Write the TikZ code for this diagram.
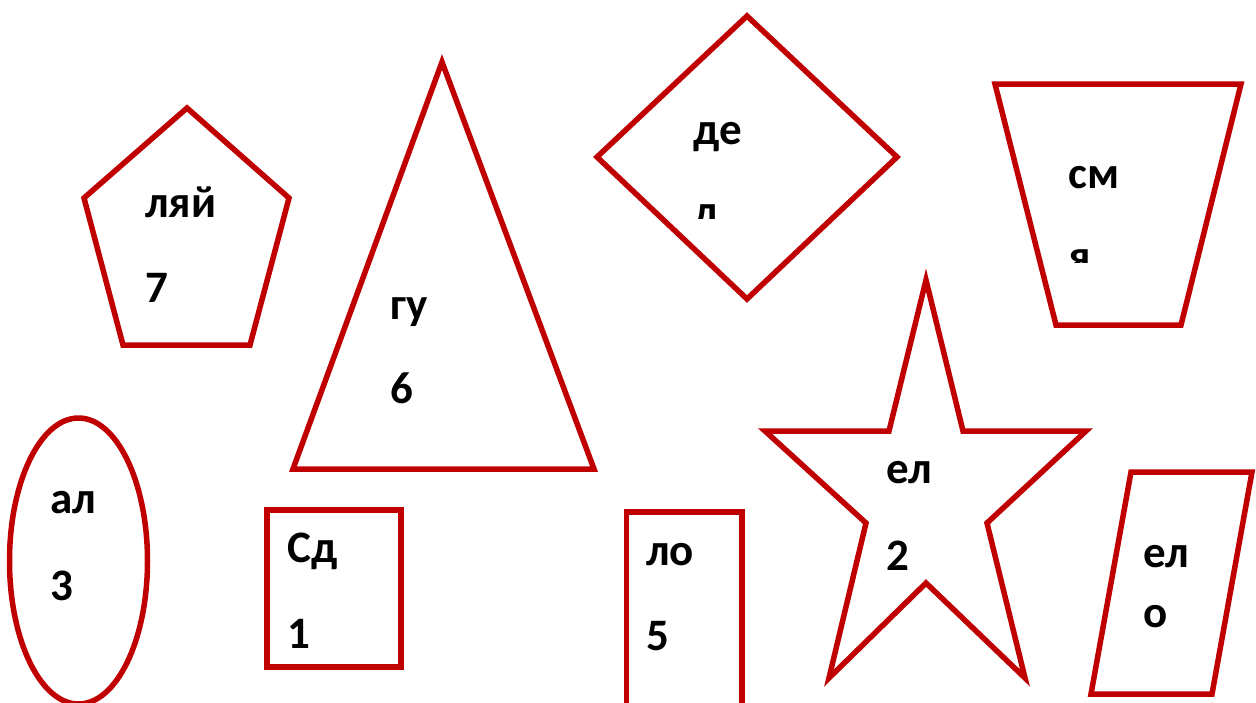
\documentclass[tikz,border=0pt]{standalone}
\usepackage{fontspec}
\setmainfont{Carlito}
\definecolor{sred}{HTML}{C00000}
\begin{document}
\begin{tikzpicture}[x=1pt,y=-1pt,
  outl/.style={draw=sred,line width=5.5pt,line join=miter,miter limit=20},
  lbl/.style={anchor=base west,inner sep=0pt,font=\fontsize{45}{54}\selectfont\bfseries}]
\clip (0,0) rectangle (1256,702);
\fill[white] (0,0) rectangle (1256,702);
% pentagon
\draw[outl] (187,108) -- (289,198) -- (250,345) -- (123,345) -- (84,198) -- cycle;
\node[lbl] (p1) at (145,217) {ляй};
\node[lbl] (p2) at (145,302) {7};
% triangle
\draw[outl] (442,62) -- (594,469) -- (293,469) -- cycle;
\node[lbl] (t1) at (390,319) {гу};
\node[lbl] (t2) at (390,403) {6};
% diamond
\draw[outl] (747,16) -- (897,157) -- (747,299) -- (597,157) -- cycle;
\begin{scope}
\clip (650,100) rectangle (800,218);
\node[lbl] (d1) at (693,144) {де};
\node[lbl] (d2) at (693,226) {д};
\end{scope}
% trapezoid
\draw[outl] (995,84) -- (1241,84) -- (1181,325) -- (1056,325) -- cycle;
\begin{scope}
\clip (1040,140) rectangle (1200,262);
\node[lbl] (z1) at (1068,188) {см};
\node[lbl] (z2) at (1068,271) {я};
\end{scope}
% star
\draw[outl] (926,280) -- (963,431) -- (1086,431) -- (987,523) -- (1025,678) -- (926,583)
  -- (829,678) -- (866,523) -- (765,431) -- (889,431) -- cycle;
\node[lbl] (s1) at (886,483) {ел};
\node[lbl] (s2) at (886,570) {2};
% ellipse
\draw[outl] (78.5,561) ellipse [x radius=69, y radius=143];
\node[lbl] (e1) at (50,513) {ал};
\node[lbl] (e2) at (50,600) {3};
% rectangle 1
\draw[outl] (267,510) rectangle (401,667);
\node[lbl] (r1) at (287,562) {Сд};
\node[lbl] (r2) at (287,648) {1};
% rectangle 2
\draw[outl] (626.5,512) rectangle (742,720);
\node[lbl] (q1) at (646,565) {ло};
\node[lbl] (q2) at (646,650) {5};
% parallelogram
\draw[outl] (1131,472) -- (1252,472) -- (1212,694) -- (1091,694) -- cycle;
\node[lbl] (g1) at (1143,567) {ел};
\node[lbl] (g2) at (1143,627) {о};
\end{tikzpicture}
\end{document}
